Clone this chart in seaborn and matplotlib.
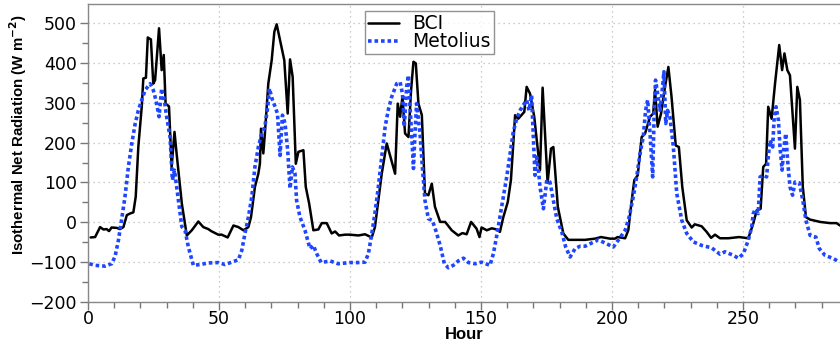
import matplotlib
matplotlib.use("Agg")
import matplotlib.pyplot as plt
import seaborn as sns
import numpy as np

# ---- data ----
bci_hour = [1, 2.7, 4.6, 5.9, 7.1, 8, 9, 11, 12.2, 13.5, 14.8, 16, 17.3, 18.2, 19.2, 20.5, 21.1, 22.1,
            22.8, 24, 24.9, 25.6, 27.1, 28.1, 28.9, 29.6, 30.9, 31.9, 33, 33.8, 35.8, 37.7, 39.6, 42.1,
            44, 45.9, 47, 49.7, 51, 53.3, 55.5, 57.4, 59.3, 61.2, 62.2, 63.7, 65, 65.6, 66, 66.9, 67.5,
            68.8, 70.1, 71.1, 72, 73.3, 74.9, 76.2, 77.1, 78.1, 79.3, 80.3, 82.2, 83.1, 84.4, 86, 87.9,
            89.2, 91.1, 93, 94.3, 95.8, 98.1, 100, 103.2, 105.7, 108.3, 109.5, 110.8, 112.1, 114, 117.2,
            118.2, 119.1, 120, 121, 122.3, 123.3, 124.2, 125.1, 126.1, 127.4, 128.6, 129.9, 131.2, 132.4,
            134.4, 136.3, 138.8, 141.3, 142.9, 144.5, 146.2, 148.3, 149.4, 150.2, 152.2, 154.1, 156,
            157.2, 158.5, 160.2, 161.4, 163, 164.2, 166.5, 167.4, 168.7, 170.3, 172.5, 173.5, 175.4,
            176.7, 177.6, 179.3, 181.4, 183.3, 189.7, 193.5, 195.8, 199.2, 201.1, 202.1, 205, 206.2,
            207.5, 208.5, 209.8, 211.3, 212.6, 214.5, 215.7, 216.4, 217.4, 218.7, 220.2, 221.5, 222.7,
            224.3, 225.5, 226.8, 228.5, 230.4, 231.6, 234.2, 236.1, 237.8, 239.3, 241.2, 244.4, 248.5,
            252, 253.9, 255.2, 256.7, 257.7, 258.8, 259.6, 260.9, 262.2, 263.8, 264.9, 265.8, 266.9,
            267.9, 269.8, 270.7, 271.7, 272.8, 274, 275.5, 279.4, 283.2, 285.7, 287]
bci_val = [-38, -37, -12, -18, -17, -22, -13, -14, -17, -12, 18, 22, 25, 64, 190, 290, 361, 363,
           464, 459, 348, 357, 487, 382, 420, 298, 291, 139, 227, 173, 47, -33, -20, 2,
           -12, -17, -22, -31, -31, -38, -8, -12, -20, -12, 13, 89, 122, 147, 235, 173, 223,
           348, 407, 478, 497, 457, 407, 273, 409, 365, 147, 177, 181, 89, 47, -20, -18,
           -2, -2, -28, -23, -33, -31, -31, -33, -30, -38, -12, 55, 122, 198, 122,
           298, 265, 315, 223, 214, 332, 403, 399, 298, 269, 72, 68, 97, 39,
           1, 1, -20, -33, -27, -30, 1, -16, -37, -13, -20, -15, -18,
           -24, 13, 51, 106, 269, 260, 277, 340, 323, 265, 131, 338, 99,
           185, 189, 39, -28, -44, -44, -41, -37, -41, -41, -37, -40, -20,
           55, 106, 118, 214, 223, 265, 273, 332, 240, 273, 340, 390, 315,
           193, 189, 89, 5, -13, -5, -10, -24, -39, -31, -40, -40, -37,
           -40, -3, 30, 34, 139, 147, 290, 260, 348, 445, 382, 424, 382,
           369, 185, 340, 307, 89, 13, 7, 1, -2, -2, -8]

met_hour = [0.5, 2.7, 6.5, 9, 10.3, 11.6, 12.8, 14.1, 15.4, 16.7, 18, 19.2, 20.5, 21.8, 23.7, 24.9,
            25.9, 27.1, 28.1, 29.1, 30, 31.3, 32.2, 33, 33.5, 34.5, 35.8, 37, 38.3, 40.2, 42.7, 45.9,
            49.7, 52.3, 54.8, 57.4, 58.7, 59.9, 61.2, 62.5, 63.7, 65, 66.3, 67.5, 68.6, 69.2, 70.4,
            71.4, 72.3, 73.3, 74.2, 75.2, 76.2, 77.1, 78, 79, 79.6, 80.9, 82.8, 84.7, 86, 87.3, 89,
            92.4, 95.5, 100, 103.2, 105.7, 107, 108.3, 109.5, 110.8, 112.1, 113.4, 114.6, 115.9,
            117.8, 119.1, 120, 120.7, 121.6, 122.3, 122.9, 123.5, 124.2, 124.8, 125.4, 126.7, 127.6,
            128.6, 129.9, 131.4, 132.7, 134.4, 136, 137.5, 139.4, 141.3, 143.3, 145.2, 147.7, 150.2,
            153.4, 154.7, 156, 157.2, 158.5, 159.8, 161.1, 162.3, 163.6, 164.9, 166.1, 167.4, 168.3,
            169.3, 170, 170.6, 171.2, 171.9, 172.5, 173.8, 175.1, 176.3, 177.6, 178.9, 180.8, 182.3,
            184, 185.9, 187.8, 189.7, 192.2, 194.8, 197.3, 200.5, 203, 205, 206.5, 208.1, 209.4,
            210.7, 211.9, 212.8, 213.6, 214.5, 215.5, 216.1, 216.6, 217.4, 218.3, 218.9, 219.8,
            220.5, 221.2, 222.1, 223.4, 224.7, 226.6, 228.5, 231, 234.2, 238, 241.2, 243.1, 246.3,
            248.2, 250.1, 252, 253.3, 253.9, 254.6, 255.8, 256.5, 257.7, 259, 259.6, 260.3, 261.3,
            261.9, 262.6, 263.5, 264.1, 264.9, 265.6, 266.3, 267, 267.9, 268.9, 269.8, 271.5, 272.8,
            274, 275.6, 277.8, 279.1, 281.3, 284.5, 286.8]
met_val = [-104, -108, -110, -104, -86, -45, 6, 64, 139, 198, 248, 281, 307, 332, 348, 332,
           307, 265, 336, 307, 265, 214, 106, 131, 106, 55, -11, -20, -62, -108, -106, -102,
           -101, -106, -100, -94, -70, -28, 13, 64, 139, 189, 223, 240, 290, 336, 307,
           290, 273, 168, 269, 248, 181, 85, 139, 122, 55, 13, -20, -66, -58, -79, -101,
           -97, -104, -101, -101, -100, -79, -28, 23, 89, 164, 240, 282, 315,
           348, 352, 323, 240, 340, 369, 290, 223, 135, 223, 298, 223, 139,
           55, 9, 5, -20, -58, -104, -114, -108, -97, -90, -101, -104, -100,
           -108, -79, -33, 13, 64, 114, 173, 227, 260, 281, 294, 307, 281,
           319, 206, 118, 164, 131, 89, 34, 106, 101, 55, 9, -24, -62,
           -87, -66, -60, -60, -52, -44, -52, -62, -39, -20, 13, 64, 114,
           173, 214, 281, 307, 223, 114, 281, 357, 323, 281, 315, 378,
           248, 281, 265, 189, 72, 5, -28, -49, -58, -64, -80, -74, -83,
           -90, -79, -45, -12, 22, 32, 22, 114, 118, 114, 164, 206, 189,
           265, 290, 256, 189, 131, 189, 223, 156, 89, 68, 101, 99, 55,
           5, -33, -37, -66, -83, -91, -100]

x_ticks = [0, 50, 100, 150, 200, 250]
y_ticks = [-200, -100, 0, 100, 200, 300, 400, 500]

# ---- plotting ----
sns.set_theme(style="white")
plt.rcParams['font.family'] = ['DejaVu Sans']
plt.rcParams['text.color'] = 'black'
plt.rcParams['axes.labelcolor'] = 'black'
plt.rcParams['xtick.color'] = 'black'
plt.rcParams['ytick.color'] = 'black'

fig = plt.figure(figsize=(8.4, 3.48), dpi=100)
ax = fig.add_axes([0.1048, 0.1322, 0.8952, 0.8563])

sns.lineplot(x=bci_hour, y=bci_val, ax=ax, color='black', linewidth=1.8,
             sort=False, label='BCI', estimator=None)
sns.lineplot(x=met_hour, y=met_val, ax=ax, color='#1f46ff', linewidth=2.6,
             linestyle=(0, (1, 0.8)), sort=False, label='Metolius', estimator=None)

ax.set_xlim(0, 287)
ax.set_ylim(-200, 548)
ax.set_xticks(x_ticks)
ax.set_yticks(y_ticks)
ax.set_xticks(np.arange(0, 290, 10), minor=True)
ax.set_yticks(np.arange(-200, 550, 50), minor=True)
ax.set_yticklabels([("\u2212" + str(-v)) if v < 0 else str(v) for v in y_ticks])

ax.grid(True, which='major', linestyle=(0, (1, 3)), color='#bbbbbb', linewidth=0.9)
for side in ['left', 'bottom', 'top']:
    ax.spines[side].set_color('#888888')
    ax.spines[side].set_linewidth(1.0)
ax.spines['right'].set_visible(False)

ax.tick_params(axis='both', which='major', direction='out', length=6, width=1,
               color='#777777', labelcolor='black', labelsize=12.5, left=True, bottom=True)
ax.tick_params(axis='x', which='major', pad=0)
ax.tick_params(axis='y', which='major', pad=2)
ax.tick_params(axis='both', which='minor', direction='out', length=4, width=1,
               color='#777777', left=True, bottom=True)

ax.set_xlabel('Hour', fontsize=12, fontweight='bold', family='Liberation Sans', color='black')
ax.xaxis.set_label_coords(0.5, -0.085)
ax.set_ylabel('Isothermal Net Radiation (W m$^{\\mathbf{-2}}$)', fontsize=10.8,
              fontweight='bold', family='Liberation Sans', color='black')
ax.yaxis.set_label_coords(-0.078, 0.56)

leg = ax.legend(loc='upper left', bbox_to_anchor=(0.368, 0.975), frameon=True,
                fancybox=False, edgecolor='#777777', fontsize=13.5, handlelength=1.7,
                borderpad=0.15, labelspacing=-0.05, handletextpad=0.7, borderaxespad=0)
leg.get_frame().set_linewidth(1.0)
for t in leg.get_texts():
    t.set_color('black')

fig.savefig('out.png', dpi=100)
